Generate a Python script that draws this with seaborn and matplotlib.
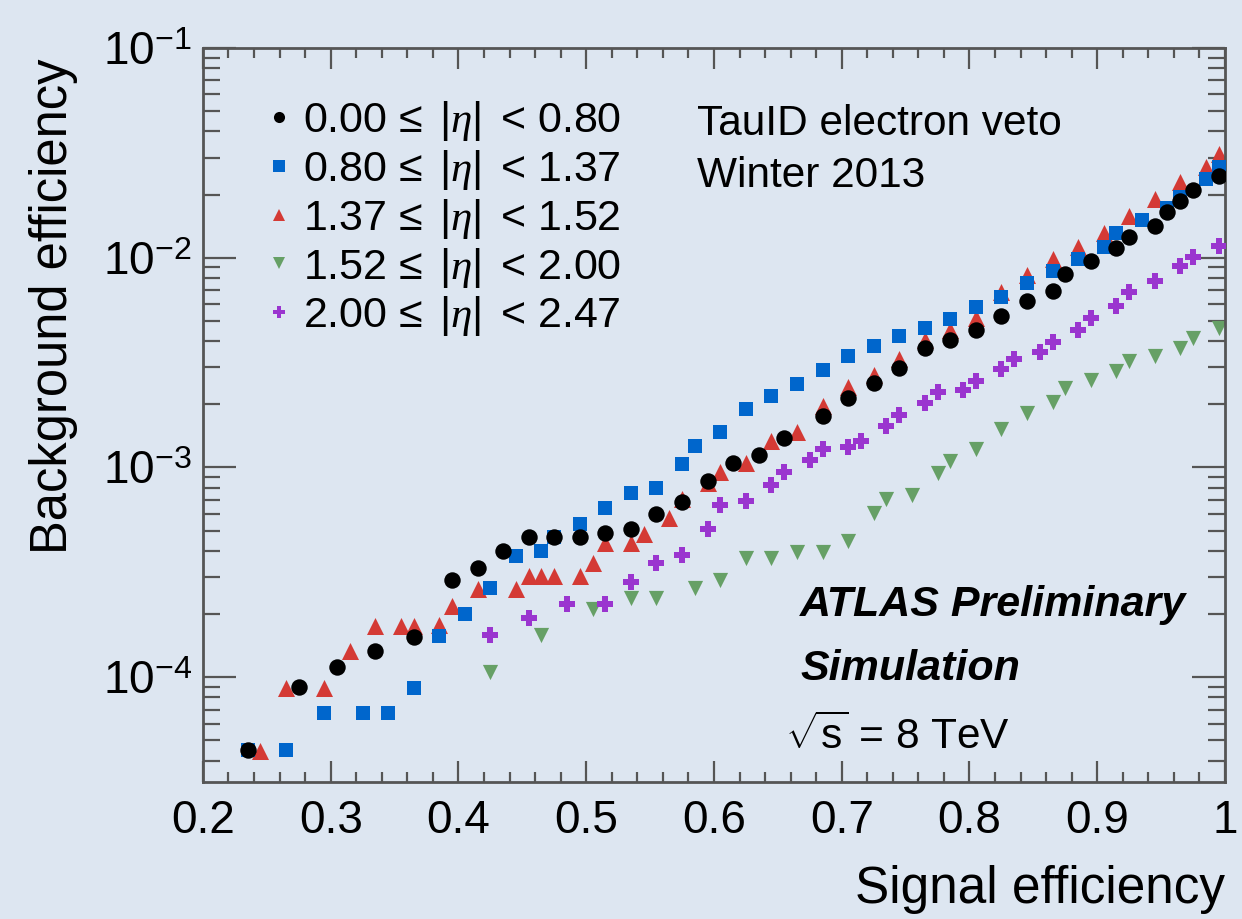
import numpy as np
import pandas as pd
import matplotlib
matplotlib.use('Agg')
import matplotlib.pyplot as plt
import seaborn as sns
from matplotlib.ticker import MultipleLocator, LogLocator, FuncFormatter, NullFormatter
from matplotlib.lines import Line2D

# ---------------- data ----------------
labels = [r"0.00 ≤ $\,|\eta|\,$ < 0.80", r"0.80 ≤ $\,|\eta|\,$ < 1.37", r"1.37 ≤ $\,|\eta|\,$ < 1.52",
          r"1.52 ≤ $\,|\eta|\,$ < 2.00", r"2.00 ≤ $\,|\eta|\,$ < 2.47"]

x_eta0 = [0.235, 0.275, 0.305, 0.335, 0.365, 0.395, 0.415, 0.435, 0.455, 0.475, 0.495, 0.515,
          0.535, 0.555, 0.575, 0.595, 0.615, 0.635, 0.655, 0.685, 0.705, 0.725, 0.745, 0.765,
          0.785, 0.805, 0.825, 0.845, 0.865, 0.875, 0.895, 0.915, 0.925, 0.945, 0.955, 0.965,
          0.975, 0.995]
y_eta0 = [4.49e-5, 8.96e-5, 1.12e-4, 1.33e-4, 1.55e-4, 2.90e-4, 3.30e-4, 3.98e-4, 4.64e-4,
          4.64e-4, 4.64e-4, 4.85e-4, 5.07e-4, 5.97e-4, 6.81e-4, 8.58e-4, 1.045e-3, 1.14e-3,
          1.375e-3, 1.75e-3, 2.15e-3, 2.54e-3, 2.99e-3, 3.69e-3, 4.07e-3, 4.54e-3, 5.29e-3,
          6.24e-3, 6.96e-3, 8.39e-3, 9.68e-3, 1.117e-2, 1.259e-2, 1.42e-2, 1.66e-2, 1.87e-2,
          2.11e-2, 2.46e-2]

x_eta1 = [0.235, 0.265, 0.295, 0.325, 0.345, 0.365, 0.385, 0.405, 0.425, 0.445, 0.465, 0.475,
          0.495, 0.515, 0.535, 0.555, 0.575, 0.585, 0.605, 0.625, 0.645, 0.665, 0.685, 0.705,
          0.725, 0.745, 0.765, 0.785, 0.805, 0.825, 0.845, 0.865, 0.885, 0.905, 0.915, 0.935,
          0.955, 0.965, 0.985, 0.995]
y_eta1 = [4.49e-5, 4.49e-5, 6.74e-5, 6.74e-5, 6.74e-5, 8.87e-5, 1.567e-4, 2.0e-4, 2.65e-4,
          3.77e-4, 3.98e-4, 4.64e-4, 5.35e-4, 6.38e-4, 7.52e-4, 7.94e-4, 1.033e-3, 1.27e-3,
          1.48e-3, 1.89e-3, 2.18e-3, 2.51e-3, 2.90e-3, 3.38e-3, 3.81e-3, 4.25e-3, 4.64e-3,
          5.12e-3, 5.85e-3, 6.52e-3, 7.60e-3, 8.67e-3, 9.89e-3, 1.128e-2, 1.316e-2, 1.52e-2,
          1.73e-2, 1.95e-2, 2.38e-2, 2.71e-2]

x_eta2 = [0.245, 0.265, 0.295, 0.315, 0.335, 0.355, 0.365, 0.385, 0.395, 0.415, 0.445, 0.455,
          0.465, 0.475, 0.495, 0.505, 0.515, 0.535, 0.545, 0.565, 0.575, 0.595, 0.605, 0.625,
          0.645, 0.665, 0.685, 0.705, 0.725, 0.745, 0.765, 0.785, 0.805, 0.825, 0.845, 0.865,
          0.885, 0.905, 0.925, 0.945, 0.965, 0.985, 0.995]
y_eta2 = [4.45e-5, 8.87e-5, 8.87e-5, 1.33e-4, 1.75e-4, 1.75e-4, 1.75e-4, 1.77e-4, 2.18e-4,
          2.62e-4, 2.62e-4, 3.03e-4, 3.03e-4, 3.03e-4, 3.03e-4, 3.49e-4, 4.35e-4, 4.35e-4,
          4.80e-4, 5.71e-4, 7.04e-4, 8.39e-4, 9.46e-4, 1.045e-3, 1.33e-3, 1.47e-3, 1.97e-3,
          2.43e-3, 2.77e-3, 3.27e-3, 4.07e-3, 4.54e-3, 5.18e-3, 6.89e-3, 8.30e-3, 9.89e-3,
          1.128e-2, 1.316e-2, 1.585e-2, 1.91e-2, 2.30e-2, 2.71e-2, 3.13e-2]

x_eta3 = [0.425, 0.465, 0.505, 0.535, 0.555, 0.585, 0.605, 0.625, 0.645, 0.665, 0.685, 0.705,
          0.725, 0.735, 0.755, 0.775, 0.785, 0.805, 0.825, 0.845, 0.865, 0.875, 0.895, 0.915,
          0.925, 0.945, 0.965, 0.975, 0.995]
y_eta3 = [1.057e-4, 1.585e-4, 2.11e-4, 2.38e-4, 2.38e-4, 2.65e-4, 2.90e-4, 3.69e-4, 3.69e-4,
          3.94e-4, 3.94e-4, 4.44e-4, 6.04e-4, 7.04e-4, 7.36e-4, 9.36e-4, 1.07e-3, 1.22e-3,
          1.52e-3, 1.81e-3, 2.04e-3, 2.38e-3, 2.60e-3, 2.87e-3, 3.20e-3, 3.41e-3, 3.73e-3,
          4.16e-3, 4.64e-3]

x_eta4 = [0.425, 0.455, 0.485, 0.515, 0.535, 0.555, 0.575, 0.595, 0.605, 0.625, 0.645, 0.655,
          0.675, 0.685, 0.705, 0.715, 0.735, 0.745, 0.765, 0.775, 0.795, 0.805, 0.825, 0.835,
          0.855, 0.865, 0.885, 0.895, 0.915, 0.925, 0.945, 0.965, 0.975, 0.995]
y_eta4 = [1.585e-4, 1.91e-4, 2.23e-4, 2.23e-4, 2.83e-4, 3.49e-4, 3.81e-4, 5.07e-4, 6.59e-4,
          6.89e-4, 8.20e-4, 9.46e-4, 1.08e-3, 1.23e-3, 1.245e-3, 1.33e-3, 1.57e-3, 1.77e-3,
          2.02e-3, 2.28e-3, 2.35e-3, 2.57e-3, 2.96e-3, 3.27e-3, 3.57e-3, 3.98e-3, 4.54e-3,
          5.18e-3, 5.91e-3, 6.89e-3, 7.77e-3, 9.16e-3, 1.01e-2, 1.14e-2]

x_ticks = [0.2, 0.3, 0.4, 0.5, 0.6, 0.7, 0.8, 0.9, 1.0]

# ---------------- style ----------------
sns.set_theme(style='ticks')
plt.rcParams['font.family'] = ['Liberation Sans', 'DejaVu Sans']
plt.rcParams['mathtext.fontset'] = 'custom'
plt.rcParams['mathtext.rm'] = 'Liberation Sans'
plt.rcParams['mathtext.it'] = 'Liberation Serif:italic'
plt.rcParams['mathtext.bf'] = 'Liberation Sans:bold'
plt.rcParams['text.color'] = 'black'
plt.rcParams['axes.labelcolor'] = 'black'
plt.rcParams['xtick.color'] = 'black'
plt.rcParams['ytick.color'] = 'black'

bg = '#dde6f1'
frame = '#555555'
fig = plt.figure(figsize=(12.42, 9.19), dpi=100, facecolor=bg)
ax = fig.add_axes([0.1634, 0.1491, 0.8229, 0.7987])
ax.set_facecolor(bg)

series = [
    (x_eta2, y_eta2, '^', '#d43a35', 150, 1),
    (x_eta3, y_eta3, 'v', '#66a066', 120, 2),
    (x_eta4, y_eta4, 'P', '#9a35cf', 120, 3),
    (x_eta1, y_eta1, 's', '#0066cc', 115, 4),
    (x_eta0, y_eta0, 'o', 'black', 140, 5),
]
for xs, ys, mk, col, sz, z in series:
    sns.scatterplot(x=xs, y=ys, marker=mk, color=col, s=sz, linewidth=0, ax=ax, zorder=z,
                    legend=False)

ax.set_yscale('log')
ax.set_xlim(0.2, 1.0)
ax.set_ylim(10 ** -4.5, 0.1)

ax.xaxis.set_major_locator(matplotlib.ticker.FixedLocator(x_ticks))
ax.xaxis.set_minor_locator(MultipleLocator(0.02))
ax.xaxis.set_major_formatter(FuncFormatter(lambda v, p: '1' if v > 0.999 else f'{v:.1f}'))
ax.yaxis.set_major_locator(LogLocator(base=10, numticks=10))
ax.yaxis.set_minor_locator(LogLocator(base=10, subs=np.arange(2, 10), numticks=20))
ax.yaxis.set_major_formatter(FuncFormatter(lambda v, p: rf'$10^{{{int(round(np.log10(v)))}}}$'))
ax.yaxis.set_minor_formatter(NullFormatter())

ax.tick_params(which='both', direction='in', top=True, right=True, color=frame, width=1.6,
               labelsize=33, labelcolor='black')
ax.tick_params(axis='x', which='major', length=15, pad=12)
ax.tick_params(axis='x', which='minor', length=7.5)
ax.tick_params(axis='y', which='major', length=24, pad=8)
ax.tick_params(axis='y', which='minor', length=12)
for sp in ax.spines.values():
    sp.set_color(frame)
    sp.set_linewidth(2)

ax.set_xlabel('Signal efficiency', fontsize=37, loc='right', color='black')
ax.xaxis.set_label_coords(1.0, -0.113)
ax.set_ylabel('Background efficiency', fontsize=36.5, loc='top', color='black')
ax.yaxis.set_label_coords(-0.122, 0.985)

# legend
handles = [
    Line2D([], [], ls='', marker='o', color='black', markersize=8, markeredgewidth=0),
    Line2D([], [], ls='', marker='s', color='#0066cc', markersize=8, markeredgewidth=0),
    Line2D([], [], ls='', marker='^', color='#d43a35', markersize=9, markeredgewidth=0),
    Line2D([], [], ls='', marker='v', color='#66a066', markersize=9, markeredgewidth=0),
    Line2D([], [], ls='', marker='P', color='#9a35cf', markersize=8, markeredgewidth=0),
]
leg = ax.legend(handles, labels, loc='upper left', bbox_to_anchor=(0.064, 0.930), frameon=False,
                fontsize=31, handlelength=0.5, handletextpad=0.3, labelspacing=0.11,
                borderaxespad=0, borderpad=0)
for t in leg.get_texts():
    t.set_color('black')

W, H = 1242.0, 919.0
def ftext(x, y, s, **kw):
    fig.text(x / W, 1 - y / H, s, color='black', **kw)

ftext(697, 135, 'TauID electron veto', fontsize=30.5, va='baseline')
ftext(697, 187, 'Winter 2013', fontsize=30.5, va='baseline')
ftext(800, 616, 'ATLAS Preliminary', fontsize=31, va='baseline', fontweight='bold', fontstyle='italic')
ftext(800, 680, 'Simulation', fontsize=31, va='baseline', fontweight='bold', fontstyle='italic')
ftext(785, 749, r'$\sqrt{\mathrm{s}}$ = 8 TeV', fontsize=30.5, va='baseline')

fig.savefig('out.png', dpi=100, facecolor=bg)
